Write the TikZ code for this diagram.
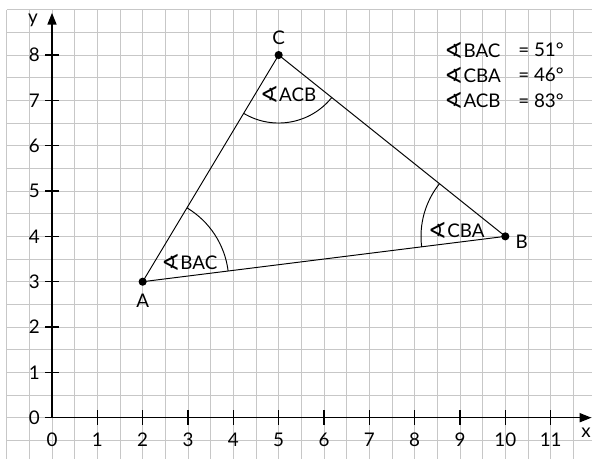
\documentclass[tikz,border=0pt]{standalone}
\usepackage{fontspec}
\setmainfont{Lato}
\newfontfamily\symfont{DejaVu Sans}
\usetikzlibrary{arrows.meta}
\newcommand{\angsym}{\raisebox{-0.05em}{\symfont\fontsize{14}{14}\selectfont ∢}\kern0.02em}
\begin{document}
\begin{tikzpicture}[
  every node/.style={font=\fontsize{11.8}{13}\selectfont, inner sep=0pt},
  gridline/.style={draw=black!22, line width=0.6pt},
  axis/.style={line width=0.9pt, -{Triangle[length=0.26cm,width=0.2cm]}},
  tickline/.style={line width=0.9pt},
  side/.style={line width=0.6pt},
  arcline/.style={line width=0.6pt},
  dot/.style={circle, fill=black, minimum size=0.18cm, inner sep=0pt},
]
\useasboundingbox (-1.147,-0.911) rectangle (11.912,9.214);
\begin{scope}
  \clip (-1.147,-0.911) rectangle (11.912,9.214);
  \draw[gridline, step=0.5] (-1,-1) grid (12,9);
\end{scope}
% axes
\coordinate (O) at (0,0);
\coordinate (xend) at (11.9,0);
\coordinate (yend) at (0,8.93);
\draw[axis] (O) -- (xend);
\draw[axis] (O) -- (yend);
\foreach \x in {1,...,11} {
  \coordinate (xt\x a) at (\x,-0.16);
  \coordinate (xt\x b) at (\x,0.16);
  \draw[tickline] (xt\x a) -- (xt\x b);
}
\foreach \x in {0,...,11} {
  \node (xl\x) at (\x,-0.49) {\x};
}
\foreach \y in {0,...,8} {
  \coordinate (yt\y a) at (-0.15,\y);
  \coordinate (yt\y b) at (0.15,\y);
  \draw[tickline] (yt\y a) -- (yt\y b);
  \node (yl\y) at (-0.39,\y) {\y};
}
\node (xlab) at (11.78,-0.34) {x};
\node (ylab) at (-0.42,8.77) {y};
% triangle
\coordinate (A) at (2,3);
\coordinate (B) at (10,4);
\coordinate (C) at (5,8);
\draw[side] (A) -- (B) -- (C) -- cycle;
% angle arcs
\draw[arcline] (A) ++(7.125:1.9) arc[start angle=7.125, end angle=59.04, radius=1.9];
\draw[arcline] (B) ++(141.34:1.86) arc[start angle=141.34, end angle=187.125, radius=1.86];
\draw[arcline] (C) ++(239.04:1.5) arc[start angle=239.04, end angle=321.34, radius=1.5];
% points
\node[dot] (Ad) at (A) {};
\node[dot] (Bd) at (B) {};
\node[dot] (Cd) at (C) {};
\node (Al) at (2.0,2.59) {A};
\node (Bl) at (10.36,3.88) {B};
\node (Cl) at (5.0,8.37) {C};
% angle labels
\node (aBAC) at (3.03,3.42) {\angsym BAC};
\node (aCBA) at (8.92,4.14) {\angsym CBA};
\node (aACB) at (5.21,7.14) {\angsym ACB};
% list
\node[anchor=west] (r1a) at (8.65,8.11) {\angsym BAC};
\node[anchor=west] (r2a) at (8.65,7.56) {\angsym CBA};
\node[anchor=west] (r3a) at (8.65,7.00) {\angsym ACB};
\node[anchor=west] (r1b) at (10.28,8.11) {= 51°};
\node[anchor=west] (r2b) at (10.28,7.56) {= 46°};
\node[anchor=west] (r3b) at (10.28,7.00) {= 83°};
\end{tikzpicture}
\end{document}
